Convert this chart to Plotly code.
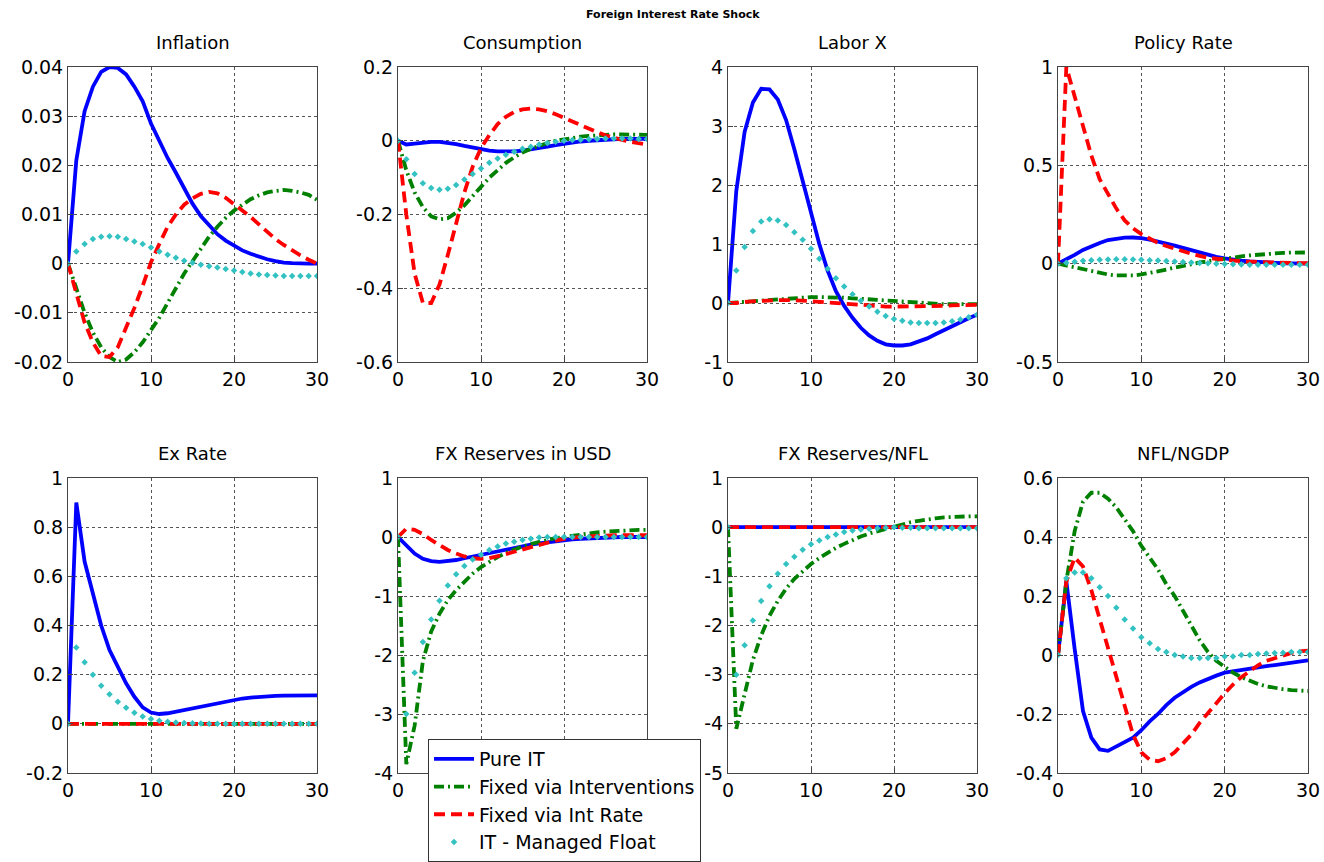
import plotly.graph_objects as go

periods = list(range(31))

panel_titles = ["Inflation", "Consumption", "Labor X", "Policy Rate",
                "Ex Rate", "FX Reserves in USD", "FX Reserves/NFL", "NFL/NGDP"]
series_names = ["Pure IT", "Fixed via Interventions", "Fixed via Int Rate", "IT - Managed Float"]

# ---- Inflation
infl_pure = [0, 0.021, 0.031, 0.036, 0.039, 0.040, 0.0398, 0.0385, 0.036, 0.033, 0.0285, 0.025, 0.0215, 0.0185, 0.0155, 0.0122, 0.0097, 0.0078, 0.006, 0.0047, 0.0036, 0.0027, 0.002, 0.0014, 0.0009, 0.0005, 0.0002, 0.0001, 0, 0, 0]
infl_interv = [0, -0.005, -0.010, -0.014, -0.017, -0.019, -0.020, -0.0195, -0.018, -0.016, -0.0135, -0.011, -0.008, -0.005, -0.002, 0.0005, 0.003, 0.0055, 0.0075, 0.0093, 0.0108, 0.012, 0.0131, 0.0139, 0.0145, 0.0148, 0.015, 0.0148, 0.0145, 0.014, 0.013]
infl_intrate = [0, -0.006, -0.012, -0.016, -0.0188, -0.019, -0.017, -0.013, -0.009, -0.0045, 0.0003, 0.004, 0.0075, 0.010, 0.012, 0.0133, 0.0142, 0.0146, 0.0143, 0.0134, 0.0121, 0.011, 0.0095, 0.008, 0.0065, 0.005, 0.0038, 0.0027, 0.0017, 0.0008, 0]
infl_managed = [0, 0.0025, 0.004, 0.005, 0.0055, 0.0056, 0.0055, 0.005, 0.0045, 0.004, 0.0033, 0.0025, 0.0018, 0.0012, 0.0006, 0.0002, -0.0002, -0.0005, -0.0008, -0.0011, -0.0014, -0.0017, -0.002, -0.0022, -0.0023, -0.0024, -0.0025, -0.0025, -0.0025, -0.0025, -0.0025]

# ---- Consumption
cons_pure = [0, -0.01, -0.008, -0.005, -0.003, -0.003, -0.005, -0.009, -0.014, -0.019, -0.024, -0.027, -0.029, -0.03, -0.029, -0.027, -0.024, -0.02, -0.016, -0.012, -0.008, -0.005, -0.002, 0, 0.002, 0.003, 0.004, 0.005, 0.005, 0.005, 0.005]
cons_interv = [0, -0.08, -0.14, -0.18, -0.205, -0.213, -0.21, -0.195, -0.175, -0.15, -0.125, -0.1, -0.08, -0.06, -0.045, -0.032, -0.022, -0.013, -0.006, 0, 0.004, 0.008, 0.011, 0.013, 0.015, 0.016, 0.017, 0.017, 0.017, 0.017, 0.016]
cons_intrate = [0, -0.2, -0.36, -0.44, -0.44, -0.39, -0.31, -0.22, -0.14, -0.07, -0.02, 0.015, 0.045, 0.065, 0.078, 0.085, 0.087, 0.085, 0.08, 0.072, 0.062, 0.052, 0.042, 0.032, 0.023, 0.015, 0.008, 0.002, -0.003, -0.007, -0.01]
cons_managed = [0, -0.05, -0.09, -0.115, -0.128, -0.133, -0.13, -0.12, -0.105, -0.09, -0.075, -0.06, -0.048, -0.038, -0.03, -0.022, -0.016, -0.01, -0.006, -0.003, 0, 0.002, 0.003, 0.004, 0.005, 0.006, 0.006, 0.006, 0.006, 0.005, 0.005]

# ---- Labor X
labor_pure = [0, 1.9, 2.9, 3.4, 3.63, 3.62, 3.45, 3.1, 2.6, 2.05, 1.5, 1.0, 0.55, 0.2, -0.05, -0.25, -0.42, -0.55, -0.64, -0.7, -0.72, -0.72, -0.7, -0.65, -0.6, -0.53, -0.46, -0.39, -0.32, -0.26, -0.2]
labor_interv = [0, 0.01, 0.02, 0.04, 0.05, 0.06, 0.07, 0.08, 0.09, 0.1, 0.1, 0.1, 0.1, 0.1, 0.09, 0.08, 0.07, 0.06, 0.05, 0.04, 0.03, 0.02, 0.01, 0, -0.01, -0.01, -0.02, -0.02, -0.02, -0.02, -0.02]
labor_intrate = [0, 0.0, 0.02, 0.03, 0.04, 0.05, 0.05, 0.05, 0.05, 0.04, 0.03, 0.02, 0.0, -0.01, -0.02, -0.03, -0.04, -0.05, -0.05, -0.06, -0.06, -0.06, -0.06, -0.06, -0.05, -0.05, -0.05, -0.04, -0.04, -0.03, -0.03]
labor_managed = [0, 0.55, 0.95, 1.22, 1.38, 1.42, 1.4, 1.32, 1.2, 1.07, 0.92, 0.75, 0.58, 0.42, 0.28, 0.15, 0.04, -0.06, -0.15, -0.22, -0.27, -0.3, -0.33, -0.34, -0.34, -0.34, -0.33, -0.31, -0.28, -0.24, -0.2]

# ---- Policy Rate
pol_pure = [0, 0.02, 0.045, 0.07, 0.09, 0.105, 0.12, 0.128, 0.132, 0.133, 0.13, 0.122, 0.113, 0.103, 0.092, 0.08, 0.068, 0.056, 0.045, 0.035, 0.027, 0.02, 0.015, 0.011, 0.008, 0.005, 0.003, 0.002, 0.001, 0.0005, 0]
pol_interv = [0, -0.01, -0.02, -0.03, -0.04, -0.048, -0.055, -0.06, -0.062, -0.06, -0.055, -0.048, -0.04, -0.03, -0.02, -0.01, -0.002, 0.006, 0.013, 0.02, 0.026, 0.032, 0.037, 0.042, 0.046, 0.05, 0.053, 0.055, 0.056, 0.057, 0.057]
pol_intrate = [0, 1.0, 0.85, 0.7, 0.55, 0.43, 0.35, 0.28, 0.22, 0.18, 0.15, 0.125, 0.105, 0.09, 0.075, 0.06, 0.05, 0.04, 0.03, 0.025, 0.02, 0.015, 0.012, 0.01, 0.008, 0.006, 0.005, 0.004, 0.003, 0.002, 0.002]
pol_managed = [0, 0.005, 0.01, 0.015, 0.018, 0.02, 0.021, 0.022, 0.022, 0.021, 0.02, 0.018, 0.016, 0.014, 0.011, 0.008, 0.006, 0.004, 0.002, 0, -0.002, -0.003, -0.004, -0.005, -0.006, -0.006, -0.006, -0.006, -0.006, -0.006, -0.006]

# ---- Ex Rate
ex_pure = [0, 0.9, 0.66, 0.53, 0.4, 0.3, 0.23, 0.165, 0.11, 0.067, 0.046, 0.04, 0.043, 0.05, 0.057, 0.064, 0.071, 0.078, 0.085, 0.092, 0.098, 0.103, 0.107, 0.11, 0.112, 0.114, 0.115, 0.116, 0.116, 0.116, 0.116]
ex_interv = [0, 0, 0, 0, 0, 0, 0, 0, 0, 0, 0, 0, 0, 0, 0, 0, 0, 0, 0, 0, 0, 0, 0, 0, 0, 0, 0, 0, 0, 0, 0]
ex_intrate = [0, 0, 0, 0, 0, 0, 0, 0, 0, 0, 0, 0, 0, 0, 0, 0, 0, 0, 0, 0, 0, 0, 0, 0, 0, 0, 0, 0, 0, 0, 0]
ex_managed = [0, 0.31, 0.25, 0.2, 0.155, 0.12, 0.09, 0.065, 0.045, 0.03, 0.02, 0.013, 0.008, 0.005, 0.003, 0.002, 0.001, 0, 0, 0, 0, 0, 0, 0, 0, 0, 0, 0, 0, 0, 0]

# ---- FX Reserves in USD
res_pure = [0, -0.15, -0.28, -0.37, -0.41, -0.42, -0.41, -0.39, -0.36, -0.33, -0.3, -0.27, -0.24, -0.21, -0.18, -0.15, -0.13, -0.11, -0.09, -0.07, -0.05, -0.04, -0.03, -0.02, -0.015, -0.01, -0.005, 0, 0, 0, 0]
res_interv = [0, -3.85, -3.2, -2.1, -1.6, -1.3, -1.07, -0.9, -0.76, -0.62, -0.51, -0.42, -0.34, -0.27, -0.21, -0.16, -0.12, -0.08, -0.05, -0.02, 0.0, 0.03, 0.05, 0.07, 0.08, 0.09, 0.1, 0.11, 0.11, 0.12, 0.12]
res_intrate = [0, 0.14, 0.12, 0.05, -0.05, -0.14, -0.22, -0.28, -0.33, -0.36, -0.37, -0.36, -0.33, -0.29, -0.25, -0.21, -0.17, -0.13, -0.09, -0.06, -0.03, -0.01, 0.0, 0.01, 0.02, 0.02, 0.03, 0.03, 0.03, 0.03, 0.03]
res_managed = [0, -3.0, -2.3, -1.78, -1.4, -1.08, -0.82, -0.63, -0.49, -0.38, -0.3, -0.22, -0.16, -0.11, -0.08, -0.05, -0.03, -0.01, 0, 0, 0, 0, 0, 0, 0, 0, 0, 0, 0, 0, 0]

# ---- FX Reserves/NFL
rn_pure = [0, 0, 0, 0, 0, 0, 0, 0, 0, 0, 0, 0, 0, 0, 0, 0, 0, 0, 0, 0, 0, 0, 0, 0, 0, 0, 0, 0, 0, 0, 0]
rn_interv = [0, -4.1, -3.4, -2.7, -2.2, -1.8, -1.5, -1.25, -1.05, -0.89, -0.75, -0.63, -0.52, -0.42, -0.34, -0.26, -0.19, -0.13, -0.08, -0.03, 0.02, 0.06, 0.1, 0.13, 0.16, 0.18, 0.2, 0.21, 0.22, 0.22, 0.22]
rn_intrate = [0, 0, 0, 0, 0, 0, 0, 0, 0, 0, 0, 0, 0, 0, 0, 0, 0, 0, 0, 0, 0, 0, 0, 0, 0, 0, 0, 0, 0, 0, 0]
rn_managed = [0, -3.0, -2.4, -1.9, -1.5, -1.2, -0.95, -0.75, -0.6, -0.46, -0.35, -0.27, -0.2, -0.15, -0.1, -0.07, -0.05, -0.03, -0.02, -0.01, 0, -0.01, -0.01, -0.02, -0.02, -0.02, -0.02, -0.02, -0.02, -0.02, -0.02]

# ---- NFL/NGDP
nfl_pure = [0, 0.25, 0.02, -0.19, -0.28, -0.32, -0.325, -0.31, -0.295, -0.28, -0.255, -0.225, -0.2, -0.17, -0.145, -0.125, -0.108, -0.093, -0.08, -0.07, -0.06, -0.055, -0.05, -0.046, -0.042, -0.038, -0.034, -0.03, -0.026, -0.022, -0.018]
nfl_interv = [0, 0.25, 0.42, 0.52, 0.55, 0.55, 0.53, 0.5, 0.46, 0.42, 0.37, 0.33, 0.29, 0.24, 0.2, 0.15, 0.1, 0.05, 0.01, -0.02, -0.04, -0.06, -0.075, -0.088, -0.098, -0.106, -0.112, -0.116, -0.119, -0.121, -0.122]
nfl_intrate = [0, 0.25, 0.33, 0.3, 0.22, 0.12, 0.02, -0.08, -0.18, -0.27, -0.33, -0.355, -0.36, -0.35, -0.33, -0.3, -0.27, -0.23, -0.195, -0.16, -0.13, -0.1, -0.075, -0.055, -0.035, -0.02, -0.01, 0.0, 0.007, 0.012, 0.015]
nfl_managed = [0, 0.26, 0.28, 0.28, 0.26, 0.23, 0.2, 0.16, 0.12, 0.09, 0.06, 0.04, 0.02, 0.01, 0.0, -0.005, -0.01, -0.01, -0.01, -0.01, -0.005, -0.005, 0, 0, 0.003, 0.005, 0.007, 0.008, 0.01, 0.01, 0.01]

panel_data = [
    [infl_pure, infl_interv, infl_intrate, infl_managed],
    [cons_pure, cons_interv, cons_intrate, cons_managed],
    [labor_pure, labor_interv, labor_intrate, labor_managed],
    [pol_pure, pol_interv, pol_intrate, pol_managed],
    [ex_pure, ex_interv, ex_intrate, ex_managed],
    [res_pure, res_interv, res_intrate, res_managed],
    [rn_pure, rn_interv, rn_intrate, rn_managed],
    [nfl_pure, nfl_interv, nfl_intrate, nfl_managed],
]

x_ticks = [0, 10, 20, 30]
x_tick_text = ["0", "10", "20", "30"]
# labels of panel 6 that sit behind the legend in the original
x_tick_text_hidden = ["0", "", "", ""]
y_ticks = [
    [-0.02, -0.01, 0, 0.01, 0.02, 0.03, 0.04],
    [-0.6, -0.4, -0.2, 0, 0.2],
    [-1, 0, 1, 2, 3, 4],
    [-0.5, 0, 0.5, 1],
    [-0.2, 0, 0.2, 0.4, 0.6, 0.8, 1],
    [-4, -3, -2, -1, 0, 1],
    [-5, -4, -3, -2, -1, 0, 1],
    [-0.4, -0.2, 0, 0.2, 0.4, 0.6],
]
y_tick_text = [
    ["-0.02", "-0.01", "0", "0.01", "0.02", "0.03", "0.04"],
    ["-0.6", "-0.4", "-0.2", "0", "0.2"],
    ["-1", "0", "1", "2", "3", "4"],
    ["-0.5", "0", "0.5", "1"],
    ["-0.2", "0", "0.2", "0.4", "0.6", "0.8", "1"],
    ["-4", "-3", "-2", "-1", "0", "1"],
    ["-5", "-4", "-3", "-2", "-1", "0", "1"],
    ["-0.4", "-0.2", "0", "0.2", "0.4", "0.6"],
]

W, H = 1324, 862
col_px = [(68, 317), (398, 647), (728, 977), (1058, 1308)]
row_px = [(67, 362), (478, 773)]

styles = [
    dict(mode="lines", line=dict(color="#0000FF", width=3.8, dash="solid")),
    dict(mode="lines", line=dict(color="#008000", width=3.8, dash="10px,4px,2px,4px")),
    dict(mode="lines", line=dict(color="#FF0000", width=3.8, dash="11px,6px")),
    dict(mode="markers", marker=dict(color="#33C2C2", size=5, symbol="diamond")),
]

fig = go.Figure()
font_family = "DejaVu Sans, sans-serif"

for i in range(8):
    r, c = divmod(i, 4)
    ax = "" if i == 0 else str(i + 1)
    xa, ya = "x" + ax, "y" + ax
    for s in range(4):
        fig.add_trace(go.Scatter(x=periods, y=panel_data[i][s], name=series_names[s],
                                 xaxis=xa, yaxis=ya, showlegend=(i == 0),
                                 cliponaxis=True, **styles[s]))
    x0, x1 = col_px[c]
    y0, y1 = row_px[r]
    common = dict(showline=True, linecolor="#444444", linewidth=1, mirror=True,
                  showgrid=True, gridcolor="#555555", griddash="dot", gridwidth=1,
                  zeroline=False, ticks="inside", ticklen=5, tickcolor="#444444",
                  automargin=False,
                  tickfont=dict(size=19, color="black", family=font_family))
    fig.layout["xaxis" + ax] = dict(domain=[x0 / W, x1 / W], anchor=ya, range=[0, 30],
                                    tickvals=x_ticks,
                                    ticktext=(x_tick_text_hidden if i == 5 else x_tick_text),
                                    **common)
    fig.layout["yaxis" + ax] = dict(domain=[1 - y1 / H, 1 - y0 / H], anchor=xa,
                                    range=[y_ticks[i][0], y_ticks[i][-1]],
                                    tickvals=y_ticks[i], ticktext=y_tick_text[i], **common)
    fig.add_annotation(text=panel_titles[i], x=(x0 + x1) / 2 / W, y=1 - (y0 - 12) / H,
                       xref="paper", yref="paper", xanchor="center", yanchor="bottom",
                       showarrow=False, font=dict(size=18, color="black", family=font_family))

fig.add_annotation(text="<b>Foreign Interest Rate Shock</b>", x=673 / W, y=1 - 14 / H,
                   xref="paper", yref="paper", xanchor="center", yanchor="middle",
                   showarrow=False, font=dict(size=11, color="black", family=font_family))

fig.update_layout(
    width=W, height=H, margin=dict(l=0, r=0, t=0, b=0),
    paper_bgcolor="white", plot_bgcolor="white",
    legend=dict(x=428 / W, y=0, xanchor="left", yanchor="bottom",
                bgcolor="white", bordercolor="#333333", borderwidth=1,
                font=dict(size=19, color="black", family=font_family),
                tracegroupgap=0, itemwidth=40),
    font=dict(family=font_family),
)

fig.write_html("out.html", config={"displayModeBar": False},
               post_script="document.body.style.margin='0';")
